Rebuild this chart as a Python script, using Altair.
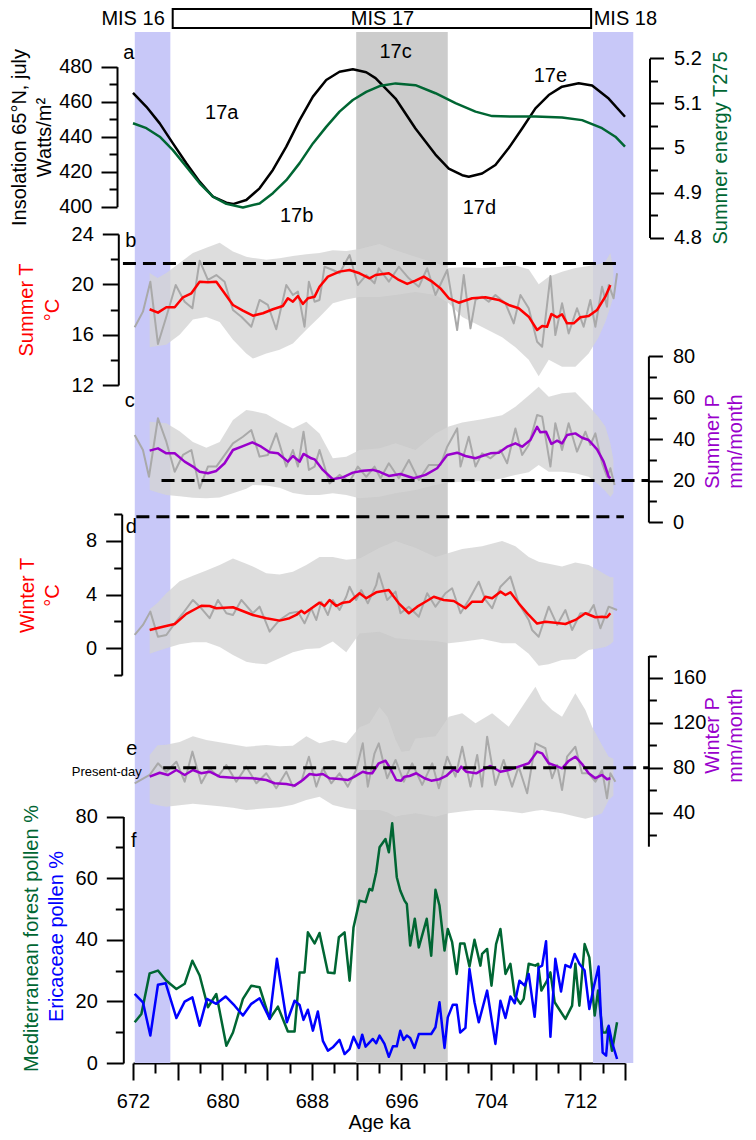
import altair as alt
import pandas as pd

FONT = "Liberation Sans"
RED = "#FF0000"
PURPLE = "#9900CC"
GREEN = "#006633"
BLUE = "#0000FF"
RAW = "#A9A9A9"
BAND = "#D4D4D4"
LAV = "#C8C8F8"
G17 = "#CCCCCC"

# ---------------- header / shading ----------------
mis_box_ka = [675.55]
mis_box_ka2 = [712.97]
mis_labels = ["MIS 16", "MIS 17", "MIS 18"]
mis_label_ka = [674.84, 694.31, 713.2]
lav_ka = [672.16, 713.14]
lav_ka2 = [675.34, 716.74]
c17_ka = [691.96]
c17_ka2 = [700.15]

# ---------------- panel a ----------------
insol_ka = [672.0, 673.2, 674.39, 675.57, 676.77, 677.96, 679.15, 680.35, 680.94, 682.13, 683.32, 684.51,
            685.71, 686.9, 688.09, 689.28, 690.47, 691.66, 692.86, 693.69, 695.48, 697.26, 699.05, 700.24,
            701.44, 702.03, 703.22, 704.41, 705.6, 706.8, 707.99, 709.18, 710.37, 711.86, 713.06, 714.54, 716.0]
insol_val = [465.1, 457.1, 447.6, 436.2, 424.8, 414.3, 405.7, 402.3, 401.5, 403.8, 410.5, 421.0,
             434.3, 449.5, 462.9, 472.4, 477.1, 478.5, 476.8, 473.5, 461.8, 444.7, 429.8, 421.8,
             418.0, 417.1, 419.0, 423.8, 433.5, 444.7, 456.2, 463.8, 468.6, 470.5, 469.2, 461.8, 451.4]
t275_ka = [672.0, 673.2, 674.39, 675.57, 676.77, 677.96, 679.15, 680.35, 681.83, 683.32, 684.51, 685.71,
           686.9, 688.09, 689.28, 690.47, 691.66, 692.86, 694.05, 695.48, 697.26, 699.05, 700.84, 702.63,
           704.12, 706.2, 707.99, 710.37, 712.16, 713.95, 715.14, 716.0]
t275_val = [5.055, 5.044, 5.025, 4.995, 4.958, 4.921, 4.891, 4.875, 4.867, 4.876, 4.899, 4.928,
            4.966, 5.010, 5.047, 5.081, 5.107, 5.125, 5.138, 5.144, 5.140, 5.122, 5.100, 5.081,
            5.071, 5.070, 5.070, 5.068, 5.062, 5.044, 5.025, 5.003]
sub_labels = ["17a", "17b", "17c", "17d", "17e"]
sub_ka = [679.94, 686.63, 695.48, 702.98, 709.33]
sub_val = [453.5, 394.7, 488.4, 399.3, 474.7]

# common x positions of the uncertainty envelopes (panels b-d)
env_ka = [673.49, 674.20, 674.98, 676.17, 677.36, 678.56, 679.75, 680.94, 682.13, 682.72, 683.92, 685.11,
          686.30, 687.50, 688.68, 689.87, 691.07, 692.26, 694.05, 695.48, 697.26, 699.05, 700.24, 701.44,
          703.22, 705.01, 706.20, 707.39, 708.28, 709.18, 710.37, 711.56, 712.75, 713.64, 714.24, 714.69, 714.96]

# ---------------- panel b: summer T ----------------
sT_hi = [20.9, 20.5, 20.9, 21.7, 22.5, 22.9, 23.3, 22.6, 22.2, 22.1, 21.95, 22.07, 22.25, 22.4, 22.5, 22.7,
         22.65, 22.8, 23.2, 22.7, 22.2, 21.7, 21.3, 21.35, 21.3, 21.4, 21.5, 21.2, 20.0, 20.6, 21.0, 21.3,
         21.45, 21.6, 21.8, 22.5, 21.2]
sT_lo = [15.0, 15.1, 15.2, 16.0, 17.2, 17.4, 17.0, 15.6, 14.5, 14.1, 14.5, 14.8, 15.3, 16.4, 17.4, 18.5,
         18.8, 19.0, 19.0, 19.15, 19.4, 19.15, 18.5, 17.4, 16.6, 15.8, 15.0, 14.0, 12.7, 14.0, 13.45, 13.45,
         14.5, 15.8, 17.0, 18.2, 19.0]
sT_raw_ka = [672.15, 672.89, 673.55, 674.23, 674.98, 675.82, 676.62, 677.31, 677.96, 678.70, 679.45, 680.19,
             680.94, 681.69, 682.58, 683.32, 684.06, 684.81, 685.71, 686.30, 686.75, 687.34, 687.73, 688.24,
             688.68, 689.13, 689.87, 690.47, 691.37, 692.11, 692.86, 693.60, 693.98, 694.88, 695.77, 696.67,
             697.56, 698.31, 699.05, 700.10, 700.99, 701.58, 702.18, 702.63, 703.22, 703.81, 704.41, 705.31,
             706.05, 706.65, 707.39, 708.14, 708.59, 709.33, 709.77, 710.37, 710.96, 711.71, 712.30, 712.90,
             713.35, 713.95, 714.39, 714.54, 714.98, 715.29]
sT_raw = [16.59, 17.83, 20.21, 15.26, 17.43, 19.95, 18.62, 18.10, 21.88, 20.35, 20.74, 20.21,
          17.96, 17.43, 16.63, 18.76, 18.36, 16.43, 19.95, 19.15, 19.42, 16.63, 20.21, 18.62,
          18.76, 21.40, 21.14, 20.88, 22.33, 19.95, 20.74, 20.08, 21.28, 20.21, 21.40, 20.48,
          19.81, 21.28, 19.15, 21.14, 16.37, 20.74, 16.50, 18.76, 19.02, 18.62, 19.15, 18.49,
          16.90, 19.15, 18.10, 15.44, 15.04, 20.66, 15.97, 18.49, 16.10, 18.10, 16.63, 18.76,
          16.63, 19.81, 18.22, 19.95, 18.89, 20.88]
sT_ka = [673.49, 674.23, 674.98, 675.73, 676.47, 677.22, 677.96, 678.70, 679.45, 680.19, 680.94, 681.83,
         682.72, 683.62, 684.51, 685.40, 685.85, 686.30, 686.75, 687.19, 687.64, 688.24, 688.68, 689.43,
         690.47, 691.37, 692.26, 693.15, 693.69, 694.88, 695.77, 696.52, 697.26, 698.00, 698.76, 699.50,
         700.24, 701.13, 702.33, 703.52, 704.71, 705.60, 706.49, 707.39, 708.14, 708.59, 709.03, 709.42,
         709.93, 710.37, 710.82, 711.41, 712.01, 712.75, 713.50, 714.24, 714.69]
sT_val = [18.02, 17.75, 18.18, 18.18, 18.97, 19.29, 20.21, 20.16, 20.21, 19.29, 18.36, 17.91,
          17.51, 17.70, 18.02, 18.28, 18.89, 18.62, 19.07, 18.44, 18.89, 19.02, 19.81, 20.61,
          21.01, 21.14, 20.88, 20.48, 20.74, 20.88, 20.35, 20.03, 20.29, 20.61, 20.21, 19.68,
          18.89, 18.54, 18.89, 18.97, 18.76, 18.36, 18.10, 17.43, 16.37, 16.69, 16.63, 17.64,
          17.38, 17.62, 16.90, 16.90, 17.38, 17.48, 17.96, 19.02, 19.95]

# ---------------- panel c: summer P ----------------
sP_hi = [48.3, 48.0, 47.6, 43.7, 38.5, 35.8, 38.5, 49.2, 54.0, 53.5, 52.0, 48.3, 45.1, 48.3, 42.7, 30.7,
         31.5, 34.7, 35.5, 37.9, 34.7, 42.7, 46.0, 48.0, 49.5, 51.5, 55.5, 61.0, 65.2, 60.4, 62.0, 62.5,
         56.0, 50.5, 46.0, 38.0, 30.0]
sP_lo = [15.4, 14.2, 13.0, 12.4, 11.7, 11.4, 11.8, 13.8, 16.0, 17.8, 17.6, 16.5, 14.0, 13.0, 13.0, 13.8,
         13.0, 11.4, 12.2, 13.8, 15.4, 17.8, 19.0, 19.4, 19.6, 21.0, 22.7, 24.0, 27.5, 24.2, 24.2, 23.5,
         21.8, 18.0, 15.0, 12.0, 14.0]
sP_raw_ka = [672.15, 672.89, 673.43, 674.23, 674.98, 675.73, 676.47, 677.22, 677.96, 678.70, 679.45, 680.94,
             681.83, 682.58, 683.32, 684.06, 684.81, 685.71, 686.30, 686.75, 687.25, 687.73, 688.24, 688.68,
             689.58, 690.47, 691.37, 692.11, 692.86, 693.60, 694.14, 694.88, 695.77, 696.67, 697.56, 698.45,
             699.50, 700.10, 700.99, 701.29, 702.03, 702.63, 703.22, 703.97, 704.86, 705.46, 706.20, 706.80,
             707.39, 708.14, 708.59, 709.33, 709.77, 710.37, 710.96, 711.71, 712.46, 712.90, 713.35, 713.95,
             714.39, 714.69, 715.07]
sP_raw = [41.9, 34.7, 21.8, 50.0, 38.7, 24.2, 32.3, 34.7, 16.2, 26.7, 26.7, 37.9,
          41.1, 44.3, 31.5, 32.3, 42.7, 26.7, 34.7, 26.7, 43.5, 25.1, 26.7, 34.7,
          18.6, 22.7, 19.4, 26.7, 21.8, 26.7, 21.1, 28.3, 21.1, 29.9, 20.2, 27.5,
          27.5, 36.3, 45.1, 26.7, 41.1, 26.7, 33.1, 30.7, 34.7, 28.3, 45.1, 32.3,
          37.1, 51.6, 50.8, 26.7, 47.6, 34.7, 47.6, 33.9, 43.5, 37.1, 42.7, 28.3,
          21.8, 25.9, 17.8]
sP_ka = [673.49, 674.23, 674.98, 675.73, 676.62, 677.36, 677.96, 678.70, 679.45, 680.19, 680.94, 681.83,
         682.67, 683.47, 684.22, 684.96, 685.85, 686.30, 686.90, 687.25, 687.94, 688.24, 688.98, 689.87,
         690.77, 691.66, 692.55, 693.45, 694.05, 694.88, 695.92, 697.11, 698.16, 699.20, 700.10, 700.99,
         701.73, 702.63, 703.22, 703.97, 704.71, 705.46, 706.20, 706.80, 707.54, 708.14, 708.43, 708.94,
         709.42, 709.93, 710.37, 710.82, 711.56, 712.16, 712.75, 713.50, 714.09, 714.54, 714.69]
sP_val = [34.4, 35.5, 33.1, 33.1, 29.1, 26.7, 24.2, 23.5, 24.6, 28.3, 34.7, 36.6,
          38.4, 36.3, 33.6, 33.1, 29.1, 31.8, 29.1, 32.8, 30.7, 30.2, 25.1, 20.6,
          21.5, 23.8, 24.7, 25.1, 24.2, 22.2, 23.1, 21.1, 22.7, 25.9, 32.3, 33.4,
          31.8, 30.7, 31.8, 33.1, 33.4, 36.3, 37.9, 36.3, 39.5, 45.9, 43.2, 43.5,
          37.6, 39.2, 37.9, 41.9, 42.7, 40.6, 39.5, 35.0, 29.1, 21.8, 21.1]

# ---------------- panel d: winter T ----------------
wT_hi = [2.9, 3.4, 4.1, 5.0, 5.4, 5.8, 6.2, 6.7, 6.3, 6.1, 5.6, 5.5, 5.7, 6.2, 6.8, 6.8, 6.6, 6.7, 7.5, 8.0,
         7.5, 6.8, 7.1, 7.4, 7.6, 8.0, 7.6, 6.8, 6.45, 6.3, 6.1, 6.4, 6.2, 5.8, 5.5, 5.3, 5.3]
wT_lo = [-0.4, -0.2, 0.0, 0.3, 0.45, 0.45, 0.1, -0.5, -1.0, -1.1, -1.2, -0.75, -0.3, -0.05, 0.0, 0.5, -0.3,
         1.1, 1.24, 0.75, 0.62, 0.55, 0.37, 0.49, 0.7, 0.37, 0.37, -0.4, -1.3, -1.2, -0.87, -0.8, -0.13,
         0.0, 0.1, 0.3, 0.5]
wT_raw_ka = [672.15, 672.89, 673.55, 674.23, 674.98, 675.73, 676.47, 677.36, 678.11, 678.85, 679.60, 680.35,
             680.94, 681.69, 682.72, 683.32, 684.22, 685.11, 686.00, 686.75, 687.34, 687.94, 688.39, 688.84,
             689.43, 689.87, 690.47, 691.07, 691.37, 691.96, 692.41, 693.00, 693.75, 693.98, 694.73, 695.48,
             695.92, 696.67, 697.56, 698.31, 699.05, 699.94, 700.54, 701.29, 702.03, 702.92, 703.52, 704.12,
             704.86, 705.75, 706.49, 707.39, 707.69, 708.28, 709.18, 709.93, 710.67, 711.27, 712.01, 712.75,
             713.20, 713.80, 714.54, 715.29]
wT_raw = [0.99, 1.74, 2.73, 0.86, 0.99, 1.86, 2.61, 3.60, 2.98, 2.24, 3.60, 2.61,
          2.48, 3.60, 2.61, 3.10, 1.24, 2.11, 2.61, 2.73, 1.86, 2.98, 2.11, 3.47,
          2.48, 3.60, 2.85, 3.84, 4.59, 3.60, 4.34, 3.35, 4.72, 5.59, 3.60, 4.22,
          2.61, 3.10, 2.35, 4.10, 3.10, 4.10, 4.47, 2.61, 3.60, 4.96, 3.60, 2.98,
          4.59, 5.34, 3.35, 2.11, 1.36, 0.86, 3.10, 1.74, 2.85, 1.36, 2.61, 2.61,
          3.23, 1.49, 3.10, 2.85]
wT_ka = [673.49, 674.68, 675.73, 676.77, 678.11, 678.85, 679.45, 680.94, 682.72, 683.92, 685.11, 686.00,
         686.60, 687.05, 687.34, 688.09, 688.68, 689.13, 689.58, 690.18, 690.77, 691.37, 692.26, 692.86,
         693.75, 694.88, 695.77, 696.67, 697.42, 698.16, 698.90, 699.79, 700.69, 701.73, 702.33, 703.22,
         703.52, 704.12, 704.86, 705.31, 705.75, 706.49, 707.39, 708.14, 708.88, 709.77, 710.67, 711.56,
         712.46, 713.35, 713.95, 714.39, 714.69]
wT_val = [1.36, 1.61, 1.81, 2.56, 3.17, 3.15, 2.98, 3.06, 2.48, 2.24, 2.06, 2.24,
          2.48, 2.80, 2.61, 3.06, 3.40, 3.15, 3.60, 3.15, 3.40, 3.47, 4.10, 3.73,
          4.17, 4.34, 3.35, 2.61, 3.10, 3.47, 3.84, 3.60, 3.52, 2.98, 3.47, 3.47,
          3.84, 3.73, 4.22, 3.97, 4.17, 3.35, 2.48, 1.84, 1.98, 1.91, 1.81, 2.11,
          2.61, 2.31, 2.35, 2.31, 2.61]

# ---------------- panel e: winter P ----------------
wP_env_ka = [673.49, 674.20, 674.98, 676.17, 677.36, 678.56, 679.75, 680.94, 682.13, 682.72, 683.92, 685.11,
             686.30, 687.50, 688.68, 689.87, 691.07, 692.26, 693.15, 694.05, 694.76, 695.48, 696.01, 696.73,
             697.26, 699.05, 700.24, 701.44, 702.63, 704.12, 705.60, 706.80, 707.99, 708.59, 709.48, 710.37,
             711.56, 712.46, 713.06, 713.95, 714.54, 714.96]
wP_lo = [48.3, 46.5, 45.2, 46.5, 47.8, 46.7, 45.7, 44.3, 42.3, 42.8, 43.8, 44.7, 47.0, 51.2, 54.1, 46.7,
         43.8, 42.3, 42.3, 42.3, 40.0, 36.3, 37.5, 38.5, 39.3, 36.3, 39.3, 41.0, 42.3, 42.3, 41.0, 39.3,
         41.5, 42.3, 40.8, 39.3, 36.5, 34.5, 36.0, 39.3, 51.2, 55.0]
wP_hi = [91.3, 100.0, 100.5, 103.0, 108.0, 104.7, 102.7, 100.7, 98.7, 99.2, 100.2, 99.2, 99.5, 108.0, 101.7,
         104.7, 101.7, 116.0, 119.6, 134.0, 125.5, 105.0, 94.3, 95.0, 106.0, 108.0, 125.5, 128.5, 119.6,
         128.5, 116.5, 134.4, 152.2, 140.3, 131.4, 125.5, 146.3, 131.4, 116.5, 100.0, 89.8, 88.0]
wP_raw_ka = [672.15, 673.49, 674.23, 674.98, 675.88, 676.62, 677.31, 678.11, 678.85, 679.60, 680.35, 681.24,
             682.13, 683.03, 683.92, 684.81, 685.71, 686.30, 687.05, 687.73, 688.39, 688.98, 689.73, 690.47,
             691.21, 691.96, 692.55, 693.00, 693.60, 693.98, 694.73, 695.48, 696.22, 696.97, 697.86, 698.76,
             699.35, 700.10, 700.84, 701.44, 702.18, 702.78, 703.22, 703.67, 704.41, 705.15, 705.90, 706.49,
             707.25, 707.99, 708.88, 709.48, 709.93, 710.37, 710.82, 711.56, 712.16, 712.75, 713.35, 713.95,
             714.39, 714.69, 715.14]
wP_raw = [66.1, 73.5, 83.9, 76.4, 85.3, 67.5, 94.3, 66.1, 79.5, 72.0, 82.4, 67.5,
          80.9, 66.1, 75.0, 61.6, 76.4, 63.1, 67.5, 89.8, 63.1, 79.5, 66.1, 75.0,
          63.1, 77.9, 101.7, 63.1, 92.8, 101.7, 70.6, 86.9, 67.5, 83.9, 64.6, 83.9,
          61.6, 89.8, 72.0, 98.7, 63.1, 91.3, 63.1, 107.6, 64.6, 86.9, 63.1, 80.9,
          57.2, 101.7, 97.3, 70.6, 82.4, 60.1, 89.8, 98.7, 75.0, 75.0, 67.5, 77.9,
          52.7, 75.0, 67.5]
wP_ka = [673.49, 674.39, 675.13, 675.88, 676.62, 677.36, 678.11, 678.85, 679.75, 680.94, 682.72, 683.92,
         684.66, 685.71, 686.45, 687.19, 687.79, 688.39, 688.98, 689.58, 690.47, 691.21, 691.81, 692.55,
         693.00, 693.39, 693.98, 694.58, 695.00, 695.54, 695.98, 696.28, 696.73, 697.33, 698.07, 698.67,
         699.41, 700.01, 700.66, 701.04, 701.35, 701.79, 702.69, 703.22, 703.97, 704.86, 705.60, 706.49,
         707.39, 708.14, 708.59, 709.18, 709.77, 710.37, 710.96, 711.56, 712.16, 712.75, 713.35, 713.95,
         714.39, 714.69]
wP_val = [72.0, 75.5, 73.5, 77.9, 73.5, 77.9, 75.0, 76.4, 72.0, 71.1, 70.6, 69.0,
          66.1, 65.5, 64.0, 69.0, 74.4, 73.5, 74.4, 70.6, 69.9, 69.0, 72.0, 76.4,
          75.0, 75.0, 83.9, 86.2, 79.5, 69.0, 68.4, 72.0, 72.6, 75.0, 70.6, 68.4,
          69.7, 72.6, 78.6, 76.4, 80.9, 76.4, 75.0, 77.9, 81.5, 76.4, 77.9, 80.9,
          83.9, 94.3, 92.8, 83.9, 81.8, 79.4, 86.0, 89.8, 83.3, 75.0, 70.6, 73.5,
          69.7, 70.6]

# ---------------- panel f: pollen ----------------
med_ka = [672.15, 672.75, 673.49, 674.23, 674.98, 675.88, 676.62, 677.31, 677.96, 678.70, 679.45, 680.35,
          680.94, 681.83, 682.58, 683.32, 684.22, 684.96, 685.85, 686.45, 686.90, 687.34, 687.64, 688.24,
          688.68, 689.43, 690.02, 690.41, 690.92, 691.37, 691.72, 692.26, 692.80, 693.15, 693.39, 693.75,
          694.05, 694.58, 694.88, 695.18, 695.59, 695.90, 696.28, 696.49, 696.79, 697.20, 697.56, 698.27,
          698.67, 699.05, 699.41, 699.86, 700.15, 700.54, 700.95, 701.26, 701.64, 702.09, 702.54, 703.07,
          703.22, 703.67, 704.06, 704.47, 704.86, 705.31, 705.75, 706.14, 706.65, 706.94, 707.39, 707.99,
          708.23, 708.52, 709.03, 709.33, 709.71, 710.67, 711.27, 711.56, 711.92, 712.39, 712.81, 713.29,
          713.59, 714.00, 714.31, 714.48, 714.84, 715.29]
med_val = [13.2, 15.9, 29.1, 30.0, 26.7, 24.0, 25.7, 33.2, 28.4, 18.1, 22.4, 5.6,
           9.9, 20.8, 25.1, 24.6, 14.3, 18.3, 10.2, 10.2, 29.4, 29.4, 42.4, 38.8,
           42.2, 29.4, 29.1, 40.8, 42.4, 26.7, 44.0, 52.7, 52.2, 56.5, 56.0, 61.9,
           70.0, 72.7, 68.4, 77.8, 60.3, 56.0, 52.7, 51.6, 38.1, 46.8, 37.5, 46.8,
           34.8, 56.2, 51.1, 36.5, 43.5, 39.2, 28.9, 38.8, 38.8, 31.3, 40.0, 31.6,
           35.4, 37.0, 25.1, 38.6, 43.5, 28.9, 32.2, 21.9, 19.2, 20.8, 32.2, 31.6,
           32.2, 23.5, 26.7, 29.4, 19.7, 14.3, 18.6, 32.2, 18.6, 38.6, 34.3, 15.4,
           23.5, 9.9, 9.9, 11.6, 4.0, 13.2]
eri_ka = [672.15, 672.89, 673.55, 674.23, 674.92, 675.88, 676.62, 677.31, 677.96, 678.61, 679.45, 680.28,
          681.09, 681.83, 682.58, 683.32, 684.22, 684.87, 685.76, 686.45, 686.90, 687.25, 687.64, 688.09,
          688.53, 688.98, 689.43, 689.87, 690.47, 690.92, 691.37, 691.72, 692.20, 692.50, 692.80, 693.45,
          693.75, 694.05, 694.49, 694.88, 695.24, 695.59, 695.90, 696.19, 696.49, 696.79, 697.17, 697.56,
          698.67, 699.05, 699.41, 699.86, 700.15, 700.60, 700.95, 701.26, 701.73, 702.09, 702.54, 702.92,
          703.67, 704.41, 704.86, 705.31, 705.75, 706.14, 706.56, 707.03, 707.39, 707.92, 708.28, 708.59,
          708.94, 709.33, 709.77, 710.28, 710.67, 711.12, 711.50, 711.92, 712.39, 712.81, 713.20, 713.64,
          714.00, 714.31, 714.54, 714.84, 715.29]
eri_val = [22.4, 19.7, 8.9, 25.4, 25.9, 14.6, 19.9, 21.3, 12.1, 20.8, 19.2, 21.6,
           18.6, 15.4, 19.2, 21.0, 14.4, 33.8, 13.2, 20.2, 18.8, 14.0, 17.3, 10.5,
           16.7, 7.2, 4.0, 5.1, 7.5, 2.9, 4.5, 8.5, 4.9, 9.2, 5.3, 7.8,
           6.4, 8.9, 6.2, 2.0, 5.4, 5.4, 10.5, 7.5, 8.9, 8.1, 4.9, 9.4,
           9.4, 11.6, 19.7, 4.9, 14.8, 18.9, 18.9, 9.9, 11.4, 30.5, 19.7, 13.2,
           23.5, 6.2, 20.2, 14.6, 21.6, 19.4, 26.7, 25.1, 28.9, 15.0, 31.0, 31.6,
           39.5, 8.5, 33.8, 23.2, 31.8, 31.0, 35.4, 32.2, 30.0, 17.5, 24.6, 31.3,
           3.4, 2.4, 12.1, 6.7, 1.3]

# reference ("present-day") levels: [start ka, end ka, value]
pd_sT = [671.1, 715.2, 21.65]
pd_sP = [674.55, 718.06, 20.0]
pd_wT = [672.3, 715.9, 9.8]
pd_wP = [674.7, 718.06, 80.0]

# panel letters: (letter, ka, value on that panel's scale, panel)
letters = [("a", 671.63, 487.8, "insol"), ("b", 671.8, 23.45, "sT"), ("c", 671.7, 58.3, "sP"),
           ("d", 671.84, 9.04, "wT"), ("e", 671.9, 96.7, "wP"), ("f", 672.06, 72.2, "pol")]

# ---------------- scales & axes ----------------
W, H = 492, 1031
SCALES = {
    "insol": ([400, 480], [174.7, 34.7]),
    "t275": ([4.8, 5.2], [205.5, 26.3]),
    "sT": ([12, 24], [353, 202]),
    "sP": ([0, 80], [490, 324]),
    "wT": ([-2, 10], [643.1, 482.1]),
    "wP": ([10, 180], [814.2, 623.5]),
    "pol": ([0, 80], [1031, 784.5]),
}


def ysc(key):
    d, r = SCALES[key]
    return alt.Scale(domain=d, range=r, nice=False, zero=False)


XS = alt.Scale(domain=[672, 716], nice=False, zero=False)
XAX = alt.Axis(
    values=list(range(672, 717, 2)),
    labelExpr="(datum.value - 672) % 8 === 0 ? datum.label : ''",
    tickSize={"condition": {"test": "datum.value % 4 === 0", "value": 17}, "value": 10},
    labelFontSize=20, labelFont=FONT, labelColor="black", labelPadding=11,
    labelFlush=False, labelOverlap=False,
    domainColor="black", domainWidth=2, tickColor="black", tickWidth=2, grid=False,
    title="Age ka", titleFont=FONT, titleFontSize=20, titleFontWeight="normal", titleColor="black",
    titleX=246, titleY=59, titleAlign="center", titleBaseline="middle",
)


def X():
    return alt.X("ka:Q", scale=XS, axis=XAX)


def yaxis(values, test, orient, offset, title, color, tx, ty, fmt=None, major=16, minor=8, pad=9,
          show=True, lh=25):
    kw = dict(
        orient=orient, offset=offset, grid=False,
        title=title, titleColor=color, titleFont=FONT, titleFontSize=20, titleFontWeight="normal",
        titleAngle=270, titleAlign="center", titleBaseline="middle", titleX=tx, titleY=ty,
        titleLineHeight=lh,
    )
    if show:
        kw.update(
            values=values, labelExpr=f"({test}) ? datum.label : ''",
            tickSize={"condition": {"test": test, "value": major}, "value": minor},
            labelFontSize=20, labelFont=FONT, labelColor="black", labelPadding=pad,
            labelOverlap=False, labelFlush=False,
            domainColor="black", domainWidth=2, tickColor="black", tickWidth=2,
        )
        if fmt:
            kw["format"] = fmt
    else:
        kw.update(domain=False, ticks=False, labels=False)
    return alt.Axis(**kw)


def line(ka, v, key, color, width, axis=None):
    df = pd.DataFrame({"ka": ka, "v": v})
    return alt.Chart(df).mark_line(color=color, strokeWidth=width, strokeJoin="round").encode(
        x=X(), y=alt.Y("v:Q", scale=ysc(key), axis=axis))


def band(ka, lo, hi, key):
    df = pd.DataFrame({"ka": ka, "lo": lo, "hi": hi})
    return alt.Chart(df).mark_area(color=BAND, opacity=0.8).encode(
        x=X(), y=alt.Y("lo:Q", scale=ysc(key), axis=None), y2="hi:Q")


def dash(spec, key):
    df = pd.DataFrame({"ka": [spec[0]], "ka2": [spec[1]], "v": [spec[2]]})
    return alt.Chart(df).mark_rule(color="black", strokeWidth=3, strokeDash=[13, 7]).encode(
        x=X(), x2="ka2:Q", y=alt.Y("v:Q", scale=ysc(key), axis=None))


def texts(labels, ka, v, key, size=20, align="center"):
    df = pd.DataFrame({"ka": ka, "v": v, "t": labels})
    return alt.Chart(df).mark_text(font=FONT, fontSize=size, align=align, baseline="middle",
                                   color="black").encode(
        x=X(), y=alt.Y("v:Q", scale=ysc(key), axis=None), text="t:N")


layers = []
# shaded intervals
layers.append(alt.Chart(pd.DataFrame({"ka": lav_ka, "ka2": lav_ka2})).mark_rect(color=LAV).encode(
    x=X(), x2="ka2:Q", y=alt.value(0), y2=alt.value(H)))
layers.append(alt.Chart(pd.DataFrame({"ka": c17_ka, "ka2": c17_ka2})).mark_rect(color=G17).encode(
    x=X(), x2="ka2:Q", y=alt.value(0), y2=alt.value(H)))
# MIS header
layers.append(alt.Chart(pd.DataFrame({"ka": mis_box_ka, "ka2": mis_box_ka2})).mark_rect(
    fill="white", stroke="black", strokeWidth=2).encode(x=X(), x2="ka2:Q", y=alt.value(-23), y2=alt.value(-4)))
for lab, k, al in zip(mis_labels, mis_label_ka, ["right", "center", "left"]):
    layers.append(alt.Chart(pd.DataFrame({"ka": [k], "t": [lab]})).mark_text(
        font=FONT, fontSize=20, align=al, baseline="middle", color="black").encode(
        x=X(), y=alt.value(-13), text="t:N"))

# panel a
layers.append(line(insol_ka, insol_val, "insol", "black", 2.5,
                   yaxis(list(range(400, 481, 10)), "datum.value % 20 === 0", "left", 16,
                         ["Insolation 65°N, july", "Watts/m²"], "black", -98, 105, lh=25)))
layers.append(line(t275_ka, t275_val, "t275", GREEN, 2.5,
                   yaxis([4.8, 4.85, 4.9, 4.95, 5.0, 5.05, 5.1, 5.15, 5.2],
                         "abs(datum.value * 10 - round(datum.value * 10)) < 0.001", "right", 24.5,
                         "Summer energy T275", GREEN, 71, 115.5, fmt=".2~f", major=14, pad=10)))
layers.append(texts(sub_labels, sub_ka, sub_val, "insol"))

# panel b
layers.append(band(env_ka, sT_lo, sT_hi, "sT"))
layers.append(line(sT_raw_ka, sT_raw, "sT", RAW, 2))
layers.append(line(sT_ka, sT_val, "sT", RED, 2.5,
                   yaxis(list(range(12, 25, 2)), "datum.value % 4 === 0", "left", 14.7,
                         ["Summer T", "°C"], RED, -92.3, 277.5, lh=26)))
layers.append(dash(pd_sT, "sT"))

# panel c
layers.append(band(env_ka, sP_lo, sP_hi, "sP"))
layers.append(line(sP_raw_ka, sP_raw, "sP", RAW, 2))
layers.append(line(sP_ka, sP_val, "sP", PURPLE, 2.5,
                   yaxis(list(range(0, 81, 10)), "datum.value % 20 === 0", "right", 23.4,
                         ["Summer P", "mm/month"], PURPLE, 64.3, 409, major=14, pad=10, lh=23)))
layers.append(dash(pd_sP, "sP"))

# panel d
layers.append(band(env_ka, wT_lo, wT_hi, "wT"))
layers.append(line(wT_raw_ka, wT_raw, "wT", RAW, 2))
layers.append(line(wT_ka, wT_val, "wT", RED, 2.5,
                   yaxis(list(range(-2, 11, 2)), "datum.value % 4 === 0", "left", 11.3,
                         ["Winter T", "°C"], RED, -94.7, 563, lh=25)))
layers.append(dash(pd_wT, "wT"))

# panel e
layers.append(band(wP_env_ka, wP_lo, wP_hi, "wP"))
layers.append(line(wP_raw_ka, wP_raw, "wP", RAW, 2))
layers.append(line(wP_ka, wP_val, "wP", PURPLE, 2.5,
                   yaxis(list(range(20, 181, 20)), "datum.value % 40 === 0", "right", 23.4,
                         ["Winter P", "mm/month"], PURPLE, 64.3, 703, major=14, pad=10, lh=23)))
layers.append(dash(pd_wP, "wP"))
layers.append(texts(["Present-day"], [672.79], [76.4], "wP", size=13, align="right"))

# panel f
layers.append(line(med_ka, med_val, "pol", GREEN, 2.5,
                   yaxis(list(range(0, 81, 10)), "datum.value % 20 === 0", "left", 9.7,
                         "Mediterranean forest pollen %", GREEN, -92.3, 906, major=17)))
layers.append(line(eri_ka, eri_val, "pol", BLUE, 2.5,
                   yaxis(None, "", "left", 9.7, "Ericaceae pollen %", BLUE, -66.8, 904, show=False)))

# panel letters
for lt, k, v, key in letters:
    layers.append(texts([lt], [k], [v], key))

chart = alt.layer(*layers).resolve_scale(y="independent").properties(
    width=W, height=H,
    autosize=alt.AutoSizeParams(type="none"),
    padding={"left": 125, "top": 24, "right": 123, "bottom": 69},
).configure_view(stroke=None).configure_axis(grid=False)

chart.save("out.html", embed_options={"renderer": "svg", "actions": False})
